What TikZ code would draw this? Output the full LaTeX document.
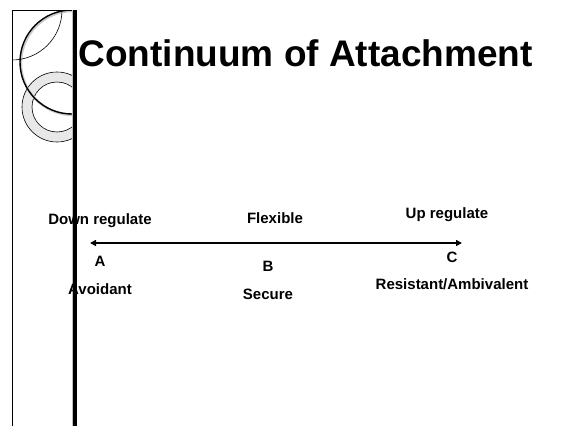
\documentclass[tikz,border=0pt]{standalone}
\usepackage{fontspec}
\setmainfont{Liberation Sans}
\usetikzlibrary{arrows.meta}

\tikzset{
  lbl/.style={anchor=base,font=\fontsize{15}{17}\selectfont\bfseries},
  axis/.style={line width=1.8pt,-{Triangle[length=6pt,width=6pt]}}
}

\begin{document}
\begin{tikzpicture}[x=1pt,y=-1pt]
\useasboundingbox (0,0) rectangle (571,426);

\begin{scope}
\clip (12,10) rectangle (72,426);
\fill[gray!18,even odd rule] (57,107) circle[radius=35pt] (57,107) circle[radius=25pt];
\draw[line width=.6pt] (57,107) circle[radius=35pt] (57,107) circle[radius=25pt];
\draw[gray!40,line width=2.4pt] (73,63) circle[radius=52pt];
\draw[line width=1.4pt] (72,62) circle[radius=52pt];
\draw[line width=.6pt] (12,10) circle[radius=50pt];
\end{scope}

\draw[line width=.8pt] (12,426) -- (12,10) -- (72,10);
\draw[gray!50,line width=.5pt] (72.3,10) -- (72.3,426);
\fill (73,10) rectangle (77,426);

\node (ti) [anchor=base west,font=\fontsize{37}{40}\selectfont\bfseries] at (75,66.5) {Continuum of Attachment};

\node (dr) [lbl] at (100,224) {Down regulate};
\node (fl) [lbl] at (275,223) {Flexible};
\node (ur) [lbl] at (447,218) {Up regulate};

\coordinate (mid) at (272.5,243);
\coordinate (le) at (90,243);
\coordinate (re) at (462,243);
\draw[axis] (mid) -- (le);
\draw[axis] (mid) -- (re);

\node (a) [lbl] at (100,266) {A};
\node (b) [lbl] at (268,271) {B};
\node (c) [lbl] at (452,262) {C};

\node (av) [lbl] at (100,294) {Avoidant};
\node (se) [lbl] at (268,299) {Secure};
\node (ra) [lbl] at (452,289) {Resistant/Ambivalent};
\end{tikzpicture}
\end{document}
